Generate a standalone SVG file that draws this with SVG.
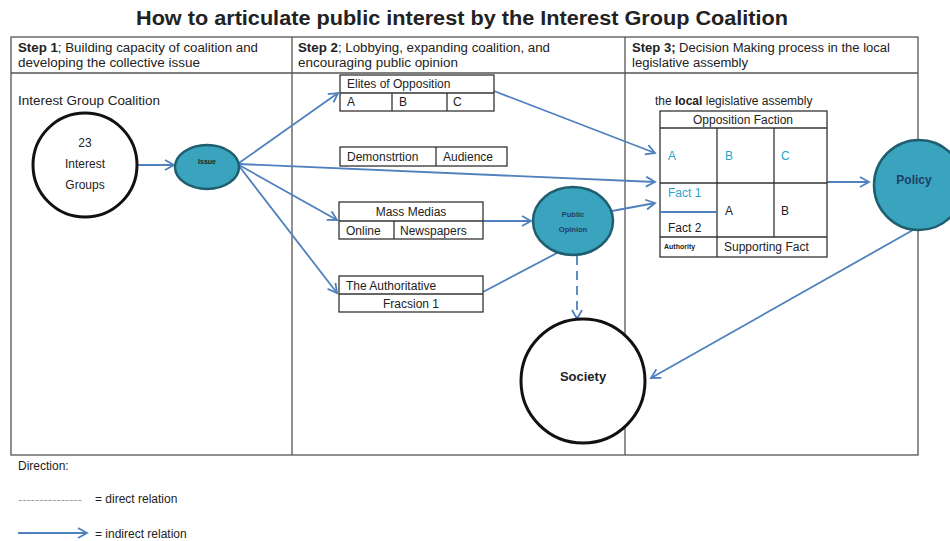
<svg xmlns="http://www.w3.org/2000/svg" width="950" height="541" viewBox="0 0 950 541">
<defs>
<marker id="ah" markerWidth="12" markerHeight="12" refX="10" refY="6" orient="auto" markerUnits="userSpaceOnUse">
<path d="M1,1 L10,6 L1,11" fill="none" stroke="#4f81bd" stroke-width="1.8"/>
</marker>
<style>
text{font-family:"Liberation Sans",Arial,sans-serif;fill:#222}
.t{font-size:12px}
.b{font-weight:bold}
.frame{fill:none;stroke:#555;stroke-width:1.3}
.tb{fill:#fff;stroke:#333;stroke-width:1.3}
.ln{stroke:#333;stroke-width:1.3}
.con{fill:none;stroke:#4f81bd;stroke-width:1.8}
.teal{fill:#3aa3be;stroke:#1f5e6e;stroke-width:2.5}
.tt{fill:#2aa5c8}
</style>
</defs>
<rect width="950" height="541" fill="#fff"/>
<text x="462" y="25" text-anchor="middle" class="b" style="font-size:20px" textLength="652" lengthAdjust="spacingAndGlyphs">How to articulate public interest by the Interest Group Coalition</text>

<g id="frame">
<rect x="11" y="37" width="907" height="418" class="frame"/>
<line x1="11" y1="73" x2="918" y2="73" class="frame"/>
<line x1="292" y1="37" x2="292" y2="455" class="frame"/>
<line x1="625" y1="37" x2="625" y2="455" class="frame"/>
</g>

<g id="headers">
<text x="18" y="52" class="t" textLength="240" lengthAdjust="spacingAndGlyphs"><tspan class="b">Step 1</tspan>; Building capacity of coalition and</text>
<text x="18" y="67" class="t" textLength="182" lengthAdjust="spacingAndGlyphs">developing the collective issue</text>
<text x="298" y="52" class="t" textLength="252" lengthAdjust="spacingAndGlyphs"><tspan class="b">Step 2</tspan>; Lobbying, expanding coalition, and</text>
<text x="298" y="67" class="t" textLength="160" lengthAdjust="spacingAndGlyphs">encouraging public opinion</text>
<text x="632" y="52" class="t" textLength="258" lengthAdjust="spacingAndGlyphs"><tspan class="b">Step 3;</tspan> Decision Making process in the local</text>
<text x="632" y="67" class="t" textLength="116" lengthAdjust="spacingAndGlyphs">legislative assembly</text>
</g>

<g id="connectors">
<line x1="137" y1="165" x2="174" y2="165" class="con" marker-end="url(#ah)"/>
<line x1="239" y1="163" x2="338" y2="93" class="con" marker-end="url(#ah)"/>
<line x1="239" y1="164" x2="655" y2="182" class="con" marker-end="url(#ah)"/>
<line x1="239" y1="165" x2="337" y2="220" class="con" marker-end="url(#ah)"/>
<line x1="239" y1="166" x2="337" y2="293" class="con" marker-end="url(#ah)"/>
<line x1="494" y1="91" x2="655" y2="153" class="con" marker-end="url(#ah)"/>
<line x1="483" y1="221" x2="531" y2="221" class="con" marker-end="url(#ah)"/>
<line x1="483" y1="292" x2="557" y2="253" class="con"/>
<line x1="612" y1="211" x2="655" y2="203" class="con" marker-end="url(#ah)"/>
<line x1="577" y1="256" x2="577" y2="319" class="con" stroke-dasharray="9,6" marker-end="url(#ah)"/>
<line x1="827" y1="182" x2="869" y2="182" class="con" marker-end="url(#ah)"/>
<line x1="913" y1="230" x2="651" y2="378" class="con" marker-end="url(#ah)"/>
</g>

<g id="coalition">
<text x="18" y="105" class="t" textLength="142" lengthAdjust="spacingAndGlyphs">Interest Group Coalition</text>
</g>

<g id="interest-groups">
<circle cx="85" cy="165" r="52" fill="#fff" stroke="#111" stroke-width="3"/>
<text x="85" y="147" class="t" text-anchor="middle">23</text>
<text x="85" y="168" class="t" text-anchor="middle">Interest</text>
<text x="85" y="189" class="t" text-anchor="middle">Groups</text>
</g>

<g id="issue">
<ellipse cx="207" cy="167" rx="32" ry="22" class="teal"/>
<text x="207" y="164" text-anchor="middle" class="b" style="font-size:7px">Issue</text>
</g>

<g id="elites">
<rect x="340" y="75" width="154" height="36" class="tb"/>
<line x1="340" y1="93" x2="494" y2="93" class="ln"/>
<line x1="392" y1="93" x2="392" y2="111" class="ln"/>
<line x1="447" y1="93" x2="447" y2="111" class="ln"/>
<text x="347" y="88" class="t">Elites of Opposition</text>
<text x="347" y="106" class="t">A</text>
<text x="399" y="106" class="t">B</text>
<text x="453" y="106" class="t">C</text>
</g>

<g id="demonstration">
<rect x="340" y="147" width="167" height="19" class="tb"/>
<line x1="436" y1="147" x2="436" y2="166" class="ln"/>
<text x="347" y="161" class="t">Demonstrtion</text>
<text x="443" y="161" class="t">Audience</text>
</g>

<g id="mass-medias">
<rect x="339" y="202" width="144" height="37" class="tb"/>
<line x1="339" y1="221" x2="483" y2="221" class="ln"/>
<line x1="394" y1="221" x2="394" y2="239" class="ln"/>
<text x="411" y="216" class="t" text-anchor="middle">Mass Medias</text>
<text x="346" y="235" class="t">Online</text>
<text x="400" y="235" class="t">Newspapers</text>
</g>

<g id="authoritative">
<rect x="339" y="276" width="144" height="36" class="tb"/>
<line x1="339" y1="294" x2="483" y2="294" class="ln"/>
<text x="346" y="290" class="t">The Authoritative</text>
<text x="411" y="308" class="t" text-anchor="middle">Fracsion 1</text>
</g>

<g id="public-opinion">
<ellipse cx="573" cy="221" rx="40" ry="34" class="teal"/>
<text x="573" y="217" text-anchor="middle" class="b" style="font-size:7.5px;fill:#1f3f66">Public</text>
<text x="573" y="232" text-anchor="middle" class="b" style="font-size:7.5px;fill:#1f3f66">Opinion</text>
</g>

<g id="society">
<circle cx="583" cy="381" r="62" fill="#fff" stroke="#111" stroke-width="3"/>
<text x="583" y="381" text-anchor="middle" class="b" style="font-size:13px">Society</text>
</g>

<g id="assembly">
<text x="655" y="105" class="t">the <tspan class="b">local</tspan>  legislative assembly</text>
<rect x="660" y="111" width="167" height="146" class="tb"/>
<line x1="660" y1="128" x2="827" y2="128" class="ln"/>
<line x1="660" y1="183" x2="827" y2="183" class="ln"/>
<line x1="660" y1="237" x2="827" y2="237" class="ln"/>
<line x1="717" y1="128" x2="717" y2="257" class="ln"/>
<line x1="774" y1="128" x2="774" y2="237" class="ln"/>
<line x1="660" y1="212" x2="717" y2="212" stroke="#4f81bd" stroke-width="1.8"/>
<text x="743" y="124" class="t" text-anchor="middle">Opposition Faction</text>
<text x="668" y="160" class="t tt">A</text>
<text x="725" y="160" class="t tt">B</text>
<text x="781" y="160" class="t tt">C</text>
<text x="668" y="197" class="t tt">Fact 1</text>
<text x="668" y="232" class="t">Fact 2</text>
<text x="725" y="215" class="t">A</text>
<text x="781" y="215" class="t">B</text>
<text x="664" y="249" class="b" style="font-size:7px">Authority</text>
<text x="724" y="251" class="t">Supporting Fact</text>
</g>

<g id="policy">
<circle cx="919" cy="185" r="45" class="teal"/>
<text x="914" y="184" text-anchor="middle" class="t b" style="fill:#1f3f66">Policy</text>
</g>

<g id="legend">
<text x="18" y="470" class="t">Direction:</text>
<text x="18" y="502" style="font-size:8px;fill:#666" textLength="64" lengthAdjust="spacingAndGlyphs">---------------</text>
<text x="95" y="503" class="t">= direct relation</text>
<line x1="18" y1="533" x2="87" y2="533" class="con" marker-end="url(#ah)"/>
<text x="95" y="538" class="t">= indirect relation</text>
</g>
</svg>
